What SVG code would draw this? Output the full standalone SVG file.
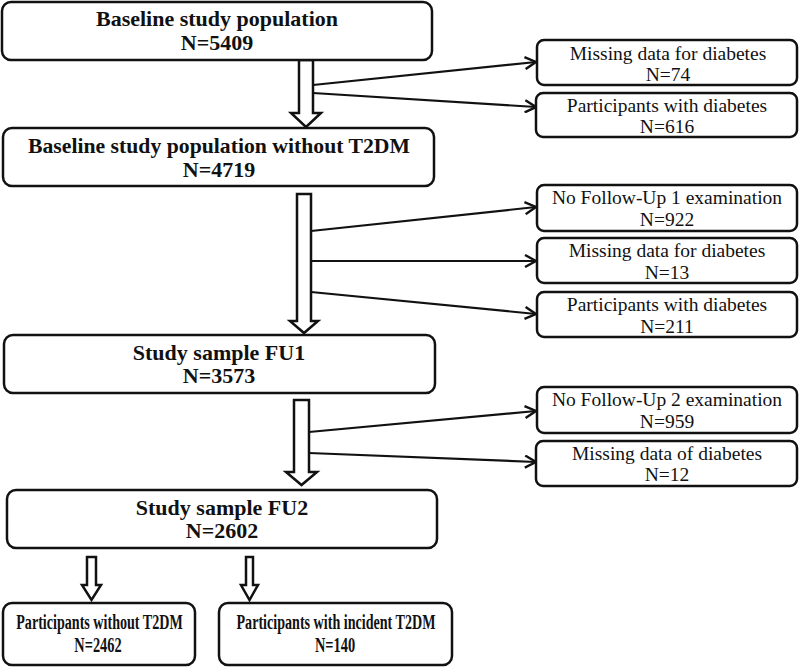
<svg xmlns="http://www.w3.org/2000/svg" width="800" height="667" viewBox="0 0 800 667">
<style>
.box{fill:#fff;stroke:#111;stroke-width:2.5}
.barrow{fill:#fff;stroke:#111;stroke-width:2.5;stroke-linejoin:miter}
.b{font-family:"Liberation Serif","DejaVu Serif",serif;font-weight:bold;font-size:22px;fill:#111;text-anchor:middle}
.bs{font-family:"Liberation Serif","DejaVu Serif",serif;font-weight:bold;font-size:20px;fill:#111;text-anchor:middle}
.r{font-family:"Liberation Serif","DejaVu Serif",serif;font-size:19.5px;fill:#111;text-anchor:middle}
.c{stroke:#111;stroke-width:2.2;fill:none;marker-end:url(#ah)}
</style>
<defs>
<marker id="ah" markerUnits="userSpaceOnUse" markerWidth="14" markerHeight="14" viewBox="0 0 14 14" refX="12" refY="7" orient="auto">
<path d="M1,1 L12,7 L1,13" fill="none" stroke="#111" stroke-width="2.4"/>
</marker>
</defs>
<g id="connectors">
<polygon class="barrow" points="299,60 313,60 313,113 321,113 306,127 291,113 299,113"/>
<polygon class="barrow" points="297,194 311,194 311,321 318,321 304,333 290,321 297,321"/>
<polygon class="barrow" points="294,400 309,400 309,472 317,472 301.5,485 286,472 294,472"/>
<polygon class="barrow" points="87,557 96,557 96,585 101,585 91.5,600 82,585 87,585"/>
<polygon class="barrow" points="246,557 253,557 253,585 258,585 249.5,600 241,585 246,585"/>
<line class="c" x1="313" y1="85" x2="536" y2="62"/>
<line class="c" x1="313" y1="93" x2="536" y2="107"/>
<line class="c" x1="311" y1="231" x2="536" y2="207"/>
<line class="c" x1="311" y1="261" x2="536" y2="261"/>
<line class="c" x1="311" y1="292" x2="536" y2="314"/>
<line class="c" x1="309" y1="432" x2="536" y2="411"/>
<line class="c" x1="309" y1="453" x2="536" y2="462"/>
</g>
<g id="n1">
<rect class="box" x="2" y="2" width="430" height="58" rx="9"/>
<text class="b" x="217" y="26">Baseline study population</text>
<text class="b" x="217" y="50">N=5409</text>
</g>
<g id="n2">
<rect class="box" x="3" y="128" width="431" height="58" rx="9"/>
<text class="b" x="219" y="153" textLength="382" lengthAdjust="spacingAndGlyphs">Baseline study population without T2DM</text>
<text class="b" x="219" y="177">N=4719</text>
</g>
<g id="n3">
<rect class="box" x="4" y="335" width="431" height="58" rx="9"/>
<text class="b" x="219" y="360">Study sample FU1</text>
<text class="b" x="219" y="383">N=3573</text>
</g>
<g id="n4">
<rect class="box" x="7" y="490" width="430" height="58" rx="9"/>
<text class="b" x="222" y="515">Study sample FU2</text>
<text class="b" x="222" y="538">N=2602</text>
</g>
<g id="n5">
<rect class="box" x="3" y="603" width="192" height="62" rx="9"/>
<text class="bs" transform="translate(99.5,629) scale(0.705,1)">Participants without T2DM</text>
<text class="bs" transform="translate(98,652) scale(0.72,1)">N=2462</text>
</g>
<g id="n6">
<rect class="box" x="219" y="603" width="233" height="62" rx="9"/>
<text class="bs" transform="translate(336,629) scale(0.705,1)">Participants with incident T2DM</text>
<text class="bs" transform="translate(335,652) scale(0.72,1)">N=140</text>
</g>
<g id="nA">
<rect class="box" x="537" y="40" width="260" height="45" rx="7"/>
<text class="r" x="668" y="60">Missing data for diabetes</text>
<text class="r" x="668" y="81">N=74</text>
</g>
<g id="nB">
<rect class="box" x="536" y="93" width="261" height="44" rx="7"/>
<text class="r" x="667" y="112">Participants with diabetes</text>
<text class="r" x="667" y="133">N=616</text>
</g>
<g id="nC">
<rect class="box" x="537" y="185" width="260" height="46" rx="7"/>
<text class="r" x="667" y="204">No Follow-Up 1 examination</text>
<text class="r" x="667" y="226">N=922</text>
</g>
<g id="nD">
<rect class="box" x="537" y="238" width="260" height="45" rx="7"/>
<text class="r" x="667" y="257">Missing data for diabetes</text>
<text class="r" x="667" y="279">N=13</text>
</g>
<g id="nE">
<rect class="box" x="537" y="292" width="260" height="45" rx="7"/>
<text class="r" x="667" y="311">Participants with diabetes</text>
<text class="r" x="667" y="333">N=211</text>
</g>
<g id="nF">
<rect class="box" x="537" y="387" width="260" height="46" rx="7"/>
<text class="r" x="667" y="406">No Follow-Up 2 examination</text>
<text class="r" x="667" y="428">N=959</text>
</g>
<g id="nG">
<rect class="box" x="536" y="441" width="261" height="45" rx="7"/>
<text class="r" x="667" y="460">Missing data of diabetes</text>
<text class="r" x="667" y="481">N=12</text>
</g>
</svg>
